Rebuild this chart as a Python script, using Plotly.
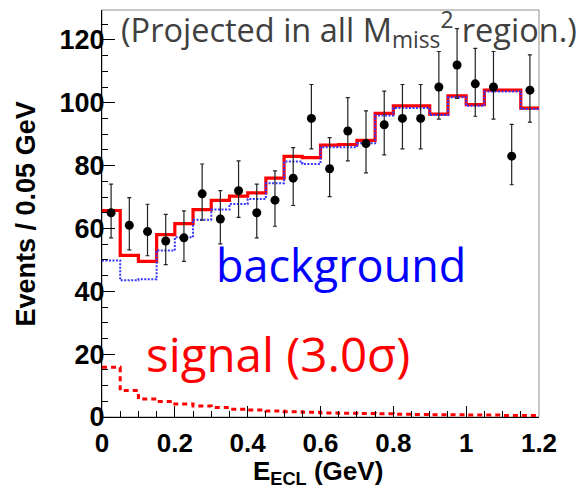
import plotly.graph_objects as go

# ---- data ----
bin_width = 0.05
n_bins = 24
bin_centers = [bin_width * (i + 0.5) for i in range(n_bins)]
bin_edges = [bin_width * i for i in range(n_bins + 1)]

data_counts = [65, 61, 59, 56, 57, 71, 63, 72, 65, 69, 76, 95,
               79, 91, 87, 93, 95, 95, 105, 112, 106, 105, 83, 104]
err_up = [9.1, 8.8, 8.7, 8.5, 8.6, 9.5, 9.0, 9.5, 9.1, 9.3, 9.7, 10.8,
          9.9, 10.6, 10.4, 10.7, 10.8, 10.8, 11.3, 11.6, 11.3, 11.3, 10.1, 11.2]
err_down = [8.0, 7.8, 7.7, 7.5, 7.5, 8.4, 7.9, 8.5, 8.0, 8.3, 8.7, 9.7,
            8.9, 9.5, 9.3, 9.6, 9.7, 9.7, 10.2, 10.6, 10.3, 10.2, 9.1, 10.2]

total_fit = [65.7, 51.4, 49.5, 58.0, 61.5, 66.0, 68.9, 70.3, 71.3, 76.0, 82.9, 82.5,
             86.5, 86.7, 88.0, 96.6, 99.0, 99.0, 96.4, 102.2, 99.4, 104.0, 104.0, 98.3]
background = [49.8, 43.5, 43.8, 53.0, 57.2, 62.8, 66.0, 67.8, 69.4, 74.4, 81.3, 80.5,
              85.8, 85.8, 87.1, 95.9, 98.3, 98.3, 96.1, 101.7, 99.0, 103.6, 103.6, 98.0]
signal = [15.8, 8.4, 5.7, 4.9, 4.1, 3.5, 3.0, 2.5, 2.2, 1.9, 1.7, 1.5,
          1.3, 1.2, 1.1, 1.0, 0.9, 0.8, 0.7, 0.7, 0.6, 0.6, 0.5, 0.5]

x_ticks = [0, 0.2, 0.4, 0.6, 0.8, 1.0, 1.2]
x_tick_labels = ["0", "0.2", "0.4", "0.6", "0.8", "1", "1.2"]
y_ticks = [0, 20, 40, 60, 80, 100, 120]
y_tick_labels = ["0", "20", "40", "60", "80", "100", "120"]


def step(vals):
    return bin_edges, vals + [vals[-1]]


fig = go.Figure()

sx, sy = step(signal)
fig.add_trace(go.Scatter(x=sx, y=sy, mode="lines", line_shape="hv",
                         line=dict(color="#ff0000", width=3, dash="5px,4px"),
                         hoverinfo="skip", showlegend=False))

tx, ty = step(total_fit)
fig.add_trace(go.Scatter(x=tx, y=ty, mode="lines", line_shape="hv",
                         line=dict(color="#ff0000", width=3.2),
                         hoverinfo="skip", showlegend=False))

bx, by = step(background)
fig.add_trace(go.Scatter(x=bx, y=by, mode="lines", line_shape="hv",
                         line=dict(color="#3535ff", width=2, dash="2px,1.5px"),
                         hoverinfo="skip", showlegend=False))

fig.add_trace(go.Scatter(
    x=bin_centers, y=data_counts, mode="markers",
    marker=dict(color="black", size=9),
    error_y=dict(type="data", symmetric=False, array=err_up, arrayminus=err_down,
                 color="#222222", thickness=1.2, width=2),
    showlegend=False))

tick_font = dict(family="Liberation Sans, Arial, sans-serif", color="black", weight="bold")

fig.update_layout(
    width=580, height=488,
    margin=dict(l=102, r=41, t=10, b=71, autoexpand=False),
    paper_bgcolor="white", plot_bgcolor="white",
    xaxis=dict(range=[0, 1.2], tickmode="array", tickvals=x_ticks, ticktext=x_tick_labels,
               ticks="inside", ticklen=11, tickwidth=1, tickcolor="black",
               minor=dict(dtick=0.05, ticks="inside", ticklen=6, tickcolor="black", tickwidth=1),
               showline=True, linecolor="black", linewidth=1, showgrid=False, zeroline=False,
               automargin=False, ticklabelstandoff=3,
               tickfont=dict(size=26, **tick_font)),
    yaxis=dict(range=[0, 129.5], tickmode="array", tickvals=y_ticks, ticktext=y_tick_labels,
               ticks="inside", ticklen=13, tickwidth=1, tickcolor="black",
               minor=dict(dtick=5, ticks="inside", ticklen=6, tickcolor="black", tickwidth=1),
               showline=True, linecolor="black", linewidth=1, showgrid=False, zeroline=False,
               automargin=False, ticklabelstandoff=-9,
               tickfont=dict(size=27, **tick_font)),
    shapes=[dict(type="rect", xref="paper", yref="paper", x0=0, y0=0, x1=1, y1=1,
                 line=dict(color="#909090", width=1), layer="below")],
)

# axis titles
fig.add_annotation(xref="paper", yref="paper", x=0.495, y=-0.09, xanchor="center", yanchor="top",
                   text="E<sub>ECL</sub> (GeV)", showarrow=False,
                   font=dict(size=26, **tick_font))
fig.add_annotation(xref="paper", yref="paper", x=-0.174, y=0.5, xanchor="center", yanchor="middle",
                   text="Events / 0.05 GeV", textangle=-90, showarrow=False,
                   font=dict(size=27, **tick_font))

# text labels
fig.add_annotation(xref="paper", yref="paper", x=0.038, y=1.02, xanchor="left", yanchor="top",
                   text="(Projected in all M<sub>miss</sub><sup>2</sup> region.)",
                   showarrow=False, font=dict(family="Open Sans", size=32.5, color="#404040"))
fig.add_annotation(xref="paper", yref="paper", x=0.257, y=0.296, xanchor="left", yanchor="bottom",
                   text="background", showarrow=False,
                   font=dict(family="Open Sans", size=45, color="#0000ff"))
fig.add_annotation(xref="paper", yref="paper", x=0.097, y=0.072, xanchor="left", yanchor="bottom",
                   text="signal (3.0σ)", showarrow=False,
                   font=dict(family="Open Sans", size=47.5, color="#ff0000"))

fig.write_html("out.html", config={"displayModeBar": False},
               post_script="document.body.style.margin='0px';")
